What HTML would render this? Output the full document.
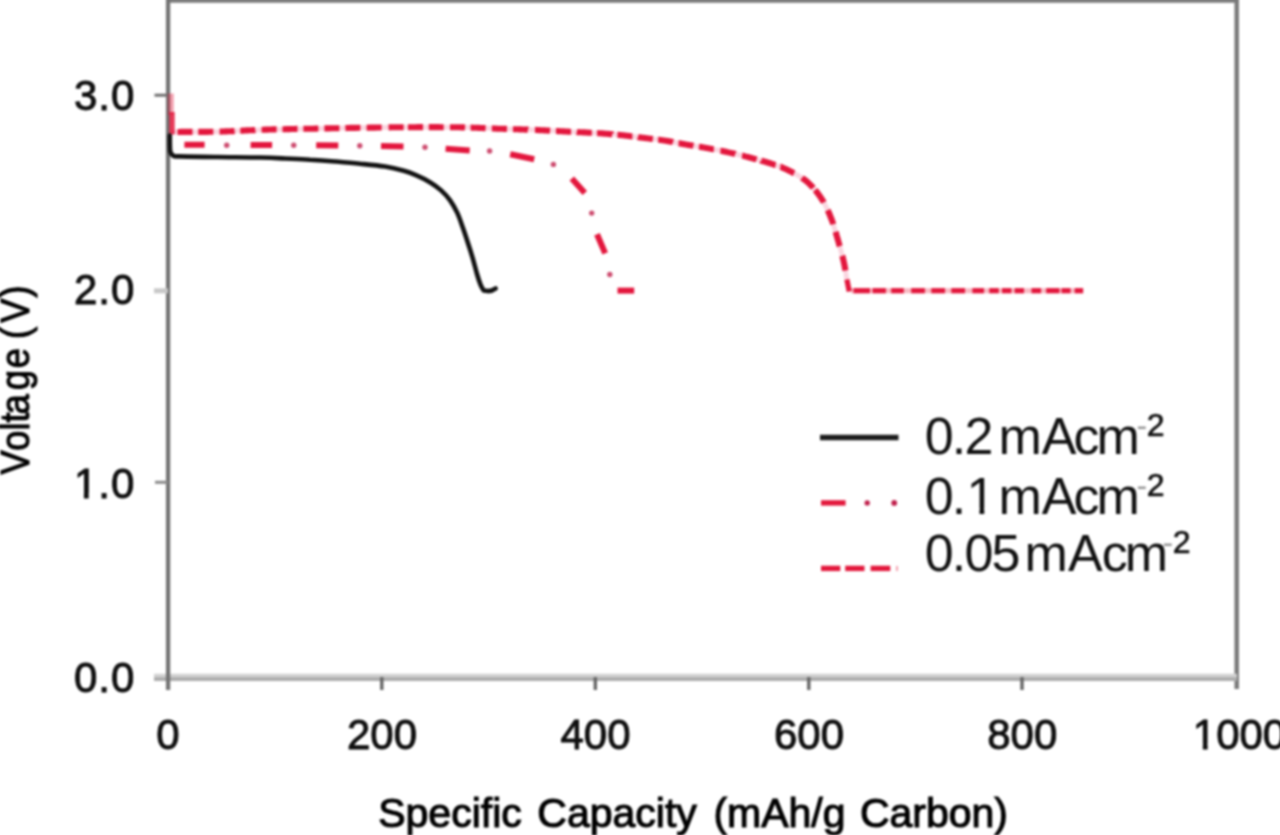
<!DOCTYPE html>
<html lang="en">
<head>
<meta charset="utf-8">
<title>Discharge curves</title>
<style>
html,body{margin:0;padding:0;background:#fff;width:1280px;height:835px;overflow:hidden;}
#chart{position:absolute;left:0;top:0;width:1280px;height:835px;overflow:hidden;contain:paint;}
svg{position:absolute;left:-20px;top:-20px;display:block;overflow:hidden;filter:blur(1.05px);}
text{font-family:"Liberation Sans",Arial,Helvetica,sans-serif;fill:#111;}
.tk{font-size:42px;stroke:#000;stroke-width:0.9px;fill:#000;}
.lb{font-size:41px;stroke:#000;stroke-width:1.1px;fill:#000;}
.lg{font-size:52px;}
.sp{font-size:32px;}
</style>
</head>
<body>
<div id="chart">
<svg width="1320" height="875" viewBox="-20 -20 1320 875">
<rect x="-20" y="-20" width="1320" height="875" fill="#fff"/>
<defs><filter id="soft" x="-5%" y="-5%" width="110%" height="110%" filterUnits="objectBoundingBox"><feGaussianBlur stdDeviation="0.55"/></filter></defs>
<!-- frame -->
<g fill="none">
<line x1="166" y1="-3.6" x2="1238.8" y2="-3.6" stroke="#7a7a7a" stroke-width="12.6"/>
<line x1="1236.7" y1="-10" x2="1236.7" y2="689" stroke="#7a7a7a" stroke-width="4.5"/>
<line x1="154" y1="676" x2="1237" y2="676" stroke="#d2d2d2" stroke-width="4.4"/>
<line x1="154" y1="679.2" x2="1237" y2="679.2" stroke="#acacac" stroke-width="3.8"/>
<line x1="168.1" y1="-10" x2="168.1" y2="690" stroke="#737373" stroke-width="4.3"/>
<!-- y ticks -->
<line x1="154.5" y1="95.2" x2="168" y2="95.2" stroke="#707070" stroke-width="3"/>
<line x1="154" y1="290.8" x2="168" y2="290.8" stroke="#c8c8c8" stroke-width="5"/>
<line x1="155" y1="482.3" x2="168" y2="482.3" stroke="#8a8a8a" stroke-width="3"/>
<!-- x ticks -->
<g stroke="#666" stroke-width="3.4">
<line x1="381.8" y1="677" x2="381.8" y2="690"/>
<line x1="595.3" y1="677" x2="595.3" y2="690"/>
<line x1="808.8" y1="677" x2="808.8" y2="690"/>
<line x1="1022" y1="677" x2="1022" y2="690"/>
</g>
</g>
<!-- curves -->
<line x1="170.8" y1="93.5" x2="170.8" y2="115" stroke="#e3183c" stroke-width="6" opacity="0.4"/>
<line x1="172" y1="112" x2="172" y2="134.5" stroke="#e3183c" stroke-width="5.4" opacity="0.85"/>
<path d="M169.8,135.5 C169.8,137.2 169.8,143.2 169.9,146.0 C170.0,148.8 169.9,150.4 170.4,152.0 C170.9,153.6 171.6,154.6 173.0,155.3 C174.4,156.0 171.6,156.1 179.0,156.4 C186.4,156.7 204.0,156.8 217.5,157.0 C231.0,157.2 248.8,157.2 260.0,157.5 C271.2,157.8 276.7,158.1 285.0,158.5 C293.3,158.9 301.7,159.2 310.0,159.8 C318.3,160.2 326.7,160.8 335.0,161.5 C343.3,162.2 351.7,162.9 360.0,163.8 C368.3,164.6 377.7,165.4 385.0,166.6 C392.3,167.8 398.6,169.4 403.8,170.8 C408.9,172.2 411.5,173.3 415.9,175.2 C420.3,177.1 426.1,179.9 430.3,182.4 C434.5,184.9 437.8,187.4 441.1,190.4 C444.4,193.4 447.4,196.6 450.1,200.3 C452.8,204.1 455.2,208.4 457.3,212.9 C459.4,217.4 460.9,222.2 462.7,227.3 C464.5,232.4 466.5,238.4 468.1,243.5 C469.8,248.6 471.1,252.7 472.6,257.8 C474.1,262.9 475.7,269.5 477.0,274.0 C478.3,278.5 479.5,282.1 480.6,284.8 C481.7,287.5 483.1,289.5 483.6,290.4 L487.8,291.1 L491.5,290.6 L495.6,288.5" fill="none" stroke="#111" stroke-width="4.6" stroke-linejoin="round" stroke-linecap="round"/>
<g filter="url(#soft)">
<path d="M172.0,132.0 C175.0,132.0 184.5,131.9 190.0,131.9 C195.5,131.9 199.0,132.0 205.0,131.9 C211.0,131.8 219.0,131.7 226.0,131.4 C233.0,131.2 239.7,130.7 247.0,130.4 C254.3,130.1 259.5,129.8 270.0,129.5 C280.5,129.2 289.2,129.1 310.0,128.7 C330.8,128.3 370.5,127.5 395.0,127.3 C419.5,127.1 439.7,127.1 457.0,127.3 C474.3,127.5 488.5,128.3 499.0,128.7 C509.5,129.0 513.7,129.2 520.0,129.4 C526.3,129.6 530.3,129.7 537.0,130.0 C543.7,130.3 552.2,130.8 560.0,131.2 C567.8,131.6 576.8,132.0 584.0,132.4 C591.2,132.8 596.3,133.0 603.1,133.5 C609.9,134.0 617.9,134.8 624.7,135.5 C631.5,136.2 637.1,137.0 643.9,137.9 C650.7,138.8 658.6,139.6 665.4,140.7 C672.2,141.8 677.8,143.1 684.6,144.3 C691.4,145.5 699.0,146.6 706.2,147.9 C713.4,149.2 720.9,150.7 727.7,152.2 C734.5,153.7 740.1,155.0 746.9,156.8 C753.7,158.6 761.7,160.6 768.5,162.8 C775.3,165.0 781.3,166.9 787.7,170.0 C794.1,173.1 801.2,176.8 806.8,181.5 C812.4,186.2 817.2,192.2 821.2,198.2 C825.2,204.2 828.0,210.4 830.8,217.4 C833.6,224.4 835.8,232.6 838.0,240.2 C840.2,247.8 842.4,255.6 844.0,263.0 C845.6,270.4 846.8,279.8 847.6,284.5 C848.4,289.2 848.7,289.9 848.9,291.0" fill="none" stroke="#e3183c" stroke-width="5" opacity="0.16"/>
<path d="M177.5,132.0 L177.6,132.0 L178.4,132.0 L179.2,132.0 L180.1,132.0 L180.9,131.9 L181.8,131.9 L182.7,131.9 L183.6,131.9 L184.4,131.9 L185.3,131.9 L186.1,131.9 L187.0,131.9 L187.8,131.9 L188.5,131.9 L189.3,131.9 L190.0,131.9 L190.7,131.9 L191.3,131.9 L192.0,131.9 L192.5,131.9 M198.3,131.9 L198.5,131.9 L199.1,131.9 L199.7,131.9 L200.3,131.9 L200.9,131.9 L201.5,131.9 L202.2,131.9 L202.9,131.9 L203.5,131.9 L204.3,131.9 L205.0,131.9 L205.8,131.9 L206.5,131.9 L207.3,131.9 L208.2,131.9 L209.0,131.8 L209.8,131.8 L210.7,131.8 L211.6,131.8 L212.4,131.8 L213.3,131.8 M219.6,131.6 L219.7,131.6 L220.6,131.6 L221.5,131.5 L222.4,131.5 L223.3,131.5 L224.2,131.5 L225.1,131.4 L226.0,131.4 L226.9,131.4 L227.7,131.3 L228.6,131.3 L229.5,131.3 L230.3,131.2 L231.2,131.2 L232.1,131.1 L232.9,131.1 L233.8,131.1 L234.6,131.0 M240.3,130.7 L240.7,130.7 L241.6,130.7 L242.5,130.6 L243.4,130.6 L244.3,130.5 L245.2,130.5 L246.1,130.4 L247.0,130.4 L247.9,130.4 L248.8,130.3 L249.7,130.3 L250.5,130.2 L251.4,130.2 L252.2,130.2 L253.0,130.1 L253.9,130.1 L254.7,130.1 L255.3,130.0 M261.6,129.8 L262.0,129.8 L263.0,129.7 L264.1,129.7 L265.2,129.6 L266.3,129.6 L267.5,129.6 L268.7,129.5 L270.0,129.5 L271.3,129.5 L272.6,129.4 L273.9,129.4 L275.2,129.4 L276.5,129.3 L276.6,129.3 M282.5,129.2 L283.2,129.2 L284.6,129.2 L286.1,129.1 L287.7,129.1 L289.3,129.1 L291.0,129.0 L292.7,129.0 L294.5,129.0 L296.4,128.9 L297.5,128.9 M303.4,128.8 L305.0,128.8 L307.5,128.7 L310.0,128.7 L312.7,128.7 L315.6,128.6 L318.4,128.5 M324.4,128.4 L325.2,128.4 L328.6,128.4 L332.2,128.3 L335.9,128.2 L339.4,128.2 M345.4,128.1 L347.2,128.0 L351.1,127.9 L355.0,127.9 L358.9,127.8 L360.4,127.8 M366.6,127.7 L366.7,127.7 L370.5,127.6 L374.3,127.6 L378.0,127.5 L381.6,127.5 M388.6,127.4 L391.9,127.3 L395.0,127.3 L398.0,127.3 L401.0,127.2 L403.6,127.2 M408.0,127.2 L409.8,127.2 L412.6,127.2 L415.4,127.2 L418.1,127.1 L420.8,127.1 L423.0,127.1 M428.8,127.1 L431.2,127.1 L433.7,127.1 L436.2,127.1 L438.7,127.1 L441.1,127.2 L443.4,127.2 L443.7,127.2 M450.0,127.2 L450.4,127.2 L452.6,127.2 L454.8,127.3 L457.0,127.3 L459.2,127.3 L461.3,127.4 L463.4,127.4 L465.0,127.5 M470.6,127.6 L471.3,127.6 L473.3,127.7 L475.1,127.8 L477.0,127.8 L478.8,127.9 L480.6,128.0 L482.3,128.0 L484.0,128.1 L485.6,128.2 M491.9,128.4 L492.0,128.4 L493.4,128.5 L494.9,128.5 L496.3,128.6 L497.7,128.7 L499.0,128.7 L500.3,128.7 L501.5,128.8 L502.7,128.8 L503.8,128.9 L504.8,128.9 L505.8,128.9 L506.8,129.0 L506.9,129.0 M513.0,129.2 L513.3,129.2 L514.1,129.2 L514.8,129.2 L515.5,129.2 L516.2,129.3 L517.0,129.3 L517.7,129.3 L518.5,129.3 L519.2,129.4 L520.0,129.4 L520.8,129.4 L521.5,129.5 L522.3,129.5 L523.0,129.5 L523.7,129.5 L524.4,129.5 L525.1,129.6 L525.7,129.6 L526.4,129.6 L527.1,129.6 L527.7,129.6 L528.0,129.7 M535.0,129.9 L535.4,129.9 L536.2,130.0 L537.0,130.0 L537.8,130.0 L538.7,130.1 L539.6,130.1 L540.5,130.2 L541.4,130.2 L542.3,130.3 L543.2,130.3 L544.2,130.4 L545.1,130.4 L546.1,130.5 L547.1,130.5 L548.1,130.6 L549.0,130.6 L550.0,130.7 M556.0,131.0 L556.0,131.0 L557.0,131.0 L558.0,131.1 L559.0,131.1 L560.0,131.2 L561.0,131.3 L562.0,131.3 L563.0,131.4 L564.0,131.4 L565.0,131.5 L566.0,131.5 L567.1,131.6 L568.1,131.6 L569.1,131.7 L570.2,131.7 L571.0,131.7 M576.8,132.0 L577.3,132.1 L578.3,132.1 L579.3,132.2 L580.3,132.2 L581.2,132.3 L582.2,132.3 L583.1,132.4 L584.0,132.4 L584.9,132.4 L585.8,132.5 L586.6,132.5 L587.4,132.6 L588.3,132.6 L589.1,132.7 L589.9,132.7 L590.6,132.7 L591.4,132.8 L591.8,132.8 M597.1,133.1 L597.5,133.1 L598.3,133.2 L599.0,133.2 L599.8,133.3 L600.6,133.3 L601.4,133.4 L602.3,133.4 L603.1,133.5 L604.0,133.6 L604.8,133.6 L605.7,133.7 L606.6,133.8 L607.5,133.9 L608.4,133.9 L609.3,134.0 L610.2,134.1 L611.1,134.2 L612.0,134.2 L612.1,134.3 M617.5,134.8 L617.6,134.8 L618.5,134.9 L619.4,135.0 L620.3,135.0 L621.2,135.1 L622.1,135.2 L623.0,135.3 L623.8,135.4 L624.7,135.5 L625.5,135.6 L626.4,135.7 L627.2,135.8 L628.0,135.9 L628.8,136.0 L629.6,136.1 L630.4,136.2 L631.2,136.3 L632.0,136.4 L632.4,136.4 M637.9,137.1 L638.2,137.2 L639.0,137.3 L639.8,137.4 L640.6,137.5 L641.4,137.6 L642.2,137.7 L643.1,137.8 L643.9,137.9 L644.8,138.0 L645.6,138.1 L646.5,138.2 L647.4,138.3 L648.3,138.4 L649.2,138.6 L650.1,138.7 L651.0,138.8 L651.9,138.9 L652.8,139.0 M658.2,139.7 L658.3,139.7 L659.2,139.8 L660.1,139.9 L661.0,140.1 L661.9,140.2 L662.8,140.3 L663.7,140.4 L664.5,140.6 L665.4,140.7 L666.2,140.8 L667.1,141.0 L667.9,141.1 L668.7,141.3 L669.5,141.4 L670.3,141.5 L671.1,141.7 L671.9,141.8 L672.7,142.0 L673.0,142.1 M678.6,143.2 L678.9,143.2 L679.7,143.4 L680.5,143.5 L681.3,143.7 L682.1,143.8 L682.9,144.0 L683.8,144.1 L684.6,144.3 L685.5,144.4 L686.3,144.6 L687.2,144.7 L688.1,144.9 L688.9,145.0 L689.8,145.2 L690.7,145.3 L691.6,145.5 L692.5,145.6 L693.4,145.8 M699.0,146.7 L699.8,146.8 L700.8,147.0 L701.7,147.1 L702.6,147.3 L703.5,147.4 L704.4,147.6 L705.3,147.7 L706.2,147.9 L707.1,148.1 L708.0,148.2 L708.9,148.4 L709.8,148.6 L710.7,148.7 L711.6,148.9 L712.5,149.1 L713.5,149.3 L713.8,149.3 M720.5,150.7 L720.7,150.7 L721.6,150.9 L722.5,151.1 L723.4,151.3 L724.3,151.5 L725.1,151.6 L726.0,151.8 L726.8,152.0 L727.7,152.2 L728.5,152.4 L729.4,152.6 L730.2,152.8 L731.0,152.9 L731.8,153.1 L732.6,153.3 L733.4,153.5 L734.2,153.7 L735.0,153.8 L735.2,153.9 M742.1,155.6 L742.8,155.7 L743.6,155.9 L744.4,156.2 L745.2,156.4 L746.1,156.6 L746.9,156.8 L747.8,157.0 L748.6,157.2 L749.5,157.5 L750.4,157.7 L751.3,157.9 L752.2,158.2 L753.1,158.4 L754.0,158.7 L754.9,158.9 L755.9,159.1 L756.6,159.3 M761.3,160.6 L761.4,160.7 L762.3,160.9 L763.2,161.2 L764.1,161.4 L765.0,161.7 L765.9,162.0 L766.8,162.3 L767.6,162.5 L768.5,162.8 L769.3,163.1 L770.2,163.3 L771.0,163.6 L771.8,163.9 L772.7,164.1 L773.5,164.4 L774.3,164.7 L775.1,165.0 L775.6,165.1 M780.5,166.9 L780.6,166.9 L781.4,167.2 L782.2,167.5 L783.0,167.9 L783.7,168.2 L784.5,168.5 L785.3,168.9 L786.1,169.2 L786.9,169.6 L787.7,170.0 L788.5,170.4 L789.3,170.8 L790.1,171.2 L790.9,171.6 L791.8,172.0 L792.6,172.5 L793.4,172.9 L794.1,173.2 M802.0,177.9 L802.4,178.2 L803.1,178.7 L803.9,179.2 L804.6,179.8 L805.4,180.3 L806.1,180.9 L806.8,181.5 L807.5,182.1 L808.2,182.7 L808.9,183.3 L809.5,184.0 L810.2,184.6 L810.8,185.3 L811.5,185.9 L812.1,186.6 L812.8,187.3 L813.2,187.8 M815.2,190.1 L815.8,190.8 L816.4,191.5 L816.9,192.3 L817.5,193.0 L818.0,193.7 L818.6,194.5 L819.1,195.2 L819.7,196.0 L820.2,196.7 L820.7,197.5 L821.2,198.2 L821.7,198.9 L822.2,199.7 L822.6,200.5 L823.1,201.2 L823.6,202.0 L823.8,202.4 M827.8,210.2 L828.0,210.6 L828.3,211.5 L828.7,212.3 L829.0,213.1 L829.4,214.0 L829.7,214.8 L830.1,215.7 L830.4,216.5 L830.8,217.4 L831.1,218.3 L831.5,219.2 L831.8,220.1 L832.2,221.0 L832.5,221.9 L832.8,222.8 L833.1,223.8 L833.2,224.2 M835.6,231.8 L835.8,232.5 L836.1,233.4 L836.3,234.4 L836.6,235.4 L836.9,236.4 L837.2,237.3 L837.4,238.3 L837.7,239.2 L838.0,240.2 L838.3,241.2 L838.5,242.1 L838.8,243.1 L839.1,244.0 L839.4,245.0 L839.6,245.9 L839.7,246.2 M842.3,255.8 L842.5,256.4 L842.7,257.4 L842.9,258.3 L843.2,259.3 L843.4,260.2 L843.6,261.1 L843.8,262.1 L844.0,263.0 L844.2,263.9 L844.4,264.9 L844.6,265.9 L844.8,266.8 L844.9,267.8 L845.1,268.8 L845.3,269.8 L845.4,270.5" fill="none" stroke="#e3183c" stroke-width="6.1"/>
<path d="M851,290.7 H1083" fill="none" stroke="#e3183c" stroke-width="5" opacity="0.3"/>
<line x1="846.9" y1="279.5" x2="849.3" y2="291.5" stroke="#e3183c" stroke-width="5.2"/>
<line x1="853.5" y1="290.7" x2="870.0" y2="290.7" stroke="#e3183c" stroke-width="5.2"/>
<line x1="872.5" y1="290.7" x2="885.9" y2="290.7" stroke="#e3183c" stroke-width="5.2"/>
<line x1="891.2" y1="290.7" x2="903.8" y2="290.7" stroke="#e3183c" stroke-width="5.2"/>
<line x1="911.2" y1="290.7" x2="924.9" y2="290.7" stroke="#e3183c" stroke-width="5.2"/>
<line x1="931.3" y1="290.7" x2="945.0" y2="290.7" stroke="#e3183c" stroke-width="5.2"/>
<line x1="951.3" y1="290.7" x2="965.0" y2="290.7" stroke="#e3183c" stroke-width="5.2"/>
<line x1="972.4" y1="290.7" x2="984.0" y2="290.7" stroke="#e3183c" stroke-width="5.2"/>
<line x1="989.3" y1="290.7" x2="998.8" y2="290.7" stroke="#e3183c" stroke-width="5.2"/>
<line x1="1002.0" y1="290.7" x2="1011.4" y2="290.7" stroke="#e3183c" stroke-width="5.2"/>
<line x1="1014.6" y1="290.7" x2="1024.0" y2="290.7" stroke="#e3183c" stroke-width="5.2"/>
<line x1="1031.5" y1="290.7" x2="1041.0" y2="290.7" stroke="#e3183c" stroke-width="5.2"/>
<line x1="1046.2" y1="290.7" x2="1059.5" y2="290.7" stroke="#e3183c" stroke-width="5.2"/>
<line x1="1061.5" y1="290.7" x2="1070.5" y2="290.7" stroke="#e3183c" stroke-width="5.2"/>
<line x1="1074.7" y1="290.7" x2="1083.2" y2="290.7" stroke="#e3183c" stroke-width="5.2"/>
<line x1="184.4" y1="144.7" x2="204.6" y2="144.8" stroke="#e3183c" stroke-width="6.0"/>
<line x1="250.6" y1="145.0" x2="272.1" y2="145.1" stroke="#e3183c" stroke-width="6.0"/>
<line x1="316.2" y1="145.2" x2="338.3" y2="145.4" stroke="#e3183c" stroke-width="6.0"/>
<line x1="381.0" y1="146.1" x2="403.5" y2="146.5" stroke="#e3183c" stroke-width="6.0"/>
<line x1="445.6" y1="148.8" x2="469.7" y2="150.5" stroke="#e3183c" stroke-width="6.0"/>
<line x1="510.2" y1="154.2" x2="534.2" y2="159.3" stroke="#e3183c" stroke-width="6.0"/>
<line x1="571.8" y1="178.4" x2="584.8" y2="193.0" stroke="#e3183c" stroke-width="6.0"/>
<line x1="597.0" y1="234.2" x2="605.2" y2="253.4" stroke="#e3183c" stroke-width="6.0"/>
<line x1="617.5" y1="290.6" x2="634.2" y2="290.6" stroke="#e3183c" stroke-width="6.0"/>
<circle cx="226.7" cy="145.2" r="2.7" fill="#c0204c" fill-opacity="0.8"/>
<circle cx="293.7" cy="145.3" r="2.7" fill="#c0204c" fill-opacity="0.8"/>
<circle cx="359.8" cy="145.8" r="2.7" fill="#c0204c" fill-opacity="0.8"/>
<circle cx="425.0" cy="147.2" r="2.7" fill="#c0204c" fill-opacity="0.8"/>
<circle cx="489.6" cy="151.0" r="2.7" fill="#c0204c" fill-opacity="0.8"/>
<circle cx="553.4" cy="164.4" r="2.7" fill="#c0204c" fill-opacity="0.8"/>
<circle cx="591.7" cy="213.1" r="2.7" fill="#c0204c" fill-opacity="0.8"/>
<circle cx="609.8" cy="274.5" r="2.7" fill="#c0204c" fill-opacity="0.8"/>
</g>
<!-- tick labels -->
<g class="tk" text-anchor="end" letter-spacing="1">
<text x="135.3" y="110">3.0</text>
<text x="135.3" y="304">2.0</text>
<text x="135.3" y="498.2">1.0</text>
<text x="135.3" y="691.5">0.0</text>
</g>
<g class="tk" text-anchor="middle">
<text x="168" y="749">0</text>
<text x="382" y="749">200</text>
<text x="595.5" y="749">400</text>
<text x="809" y="749">600</text>
<text x="1022.3" y="749">800</text>
<text x="1239.5" y="749">1000</text>
</g>
<!-- axis labels -->
<text class="lb" y="827.3"><tspan x="378.2">Specific</tspan> <tspan x="537.3">Capacity</tspan> <tspan x="713.4">(mAh/g</tspan> <tspan x="859.9">Carbon)</tspan></text>
<text class="lb" transform="translate(28.5,474.4) rotate(-90) scale(0.88,1)" x="0.0 26.8 49.9 59.1 68.4 96.0 120.5 145.5 154.0 172.2 201.1">Voltage (V)</text>
<!-- legend -->
<line x1="820" y1="437.5" x2="898.5" y2="437.5" stroke="#1c1c1c" stroke-width="5.6"/>
<line x1="821" y1="502.9" x2="845.6" y2="502.9" stroke="#e3183c" stroke-width="5.4"/>
<circle cx="867.2" cy="502.9" r="2.7" fill="#c0204c"/>
<circle cx="894.2" cy="502.9" r="2.9" fill="#c0204c"/>
<line x1="821" y1="568.4" x2="840.3" y2="568.4" stroke="#e3183c" stroke-width="5.4"/>
<line x1="845.2" y1="568.4" x2="864.5" y2="568.4" stroke="#e3183c" stroke-width="5.4"/>
<line x1="870.6" y1="568.4" x2="890.3" y2="568.4" stroke="#e3183c" stroke-width="5.4"/>
<line x1="896" y1="568.4" x2="898" y2="568.4" stroke="#e3183c" stroke-width="5" opacity="0.4"/>
<g class="lg">
<text y="453.6"><tspan x="924.7" letter-spacing="-1.8">0.2</tspan> <tspan x="998.5">mA</tspan> <tspan x="1073.6" letter-spacing="-3">cm</tspan><tspan class="sp" x="1136.5" y="436.1" fill-opacity="0.45">-</tspan><tspan class="sp" x="1146.7" y="436.1" stroke="#111" stroke-width="0.7">2</tspan></text>
<text y="513.6"><tspan x="924.7" letter-spacing="-1.8" dx="0 0 2">0.1</tspan> <tspan x="998.5">mA</tspan> <tspan x="1073.6" letter-spacing="-3">cm</tspan><tspan class="sp" x="1136.5" y="496.1" fill-opacity="0.45">-</tspan><tspan class="sp" x="1146.7" y="496.1" stroke="#111" stroke-width="0.7">2</tspan></text>
<text y="570.5"><tspan x="924.7" letter-spacing="-1.8">0.05</tspan> <tspan x="1024.6">mA</tspan> <tspan x="1101.8" letter-spacing="-3">cm</tspan><tspan class="sp" x="1162.5" y="553.0" fill-opacity="0.45">-</tspan><tspan class="sp" x="1172.7" y="553.0" stroke="#111" stroke-width="0.7">2</tspan></text>
</g>
<!-- hide the foot of the digit 1 (Arial-style 1) -->
<rect x="74.65" y="493.01" width="9.26" height="8.04" fill="#fff"/><rect x="88.72" y="493.01" width="8.93" height="8.04" fill="#fff"/>
<rect x="1193.55" y="743.81" width="9.26" height="8.04" fill="#fff"/><rect x="1207.62" y="743.81" width="8.93" height="8.04" fill="#fff"/>
<rect x="968.46" y="508.12" width="11.02" height="7.88" fill="#fff"/><rect x="984.27" y="508.12" width="10.61" height="7.88" fill="#fff"/>
</svg>
</div>
</body>
</html>
